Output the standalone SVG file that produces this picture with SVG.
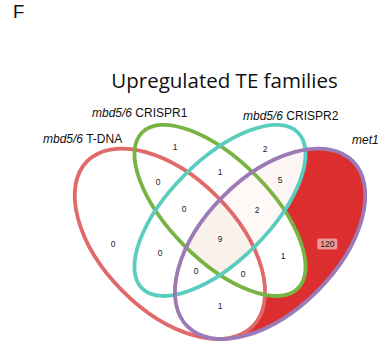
<svg xmlns="http://www.w3.org/2000/svg" width="385" height="349" viewBox="0 0 385 349">
<style>
.n{font-family:"Liberation Sans",Arial,sans-serif;font-size:8.5px;fill:#1a1a1a;text-anchor:middle}
.lab{font-family:"Liberation Sans",Arial,sans-serif;font-size:12px;fill:#111}
.box{fill:#ffffff;fill-opacity:0.5}
.o{fill:none;stroke-width:3.8}
</style>
<defs>
<ellipse id="eR" cx="169.9" cy="243.8" rx="116.9" ry="66.8" transform="rotate(45 169.9 243.8)"/>
<ellipse id="eG" cx="220" cy="210.4" rx="110.2" ry="50.1" transform="rotate(45 220 210.4)"/>
<ellipse id="eC" cx="220" cy="210.4" rx="110.2" ry="50.1" transform="rotate(-45 220 210.4)"/>
<ellipse id="eP" cx="270.1" cy="243.8" rx="116.9" ry="66.8" transform="rotate(-45 270.1 243.8)"/>
<clipPath id="cG"><use href="#eG"/></clipPath>
<clipPath id="cC"><use href="#eC"/></clipPath>
<clipPath id="cP"><use href="#eP"/></clipPath>
</defs>
<rect width="385" height="349" fill="#ffffff"/>
<text x="13" y="18" font-family="Liberation Sans,Arial,sans-serif" font-size="18.5" fill="#111">F</text>
<text x="224.5" y="88" font-family="Open Sans,sans-serif" font-size="20.5" fill="#111" text-anchor="middle">Upregulated TE families</text>

<g id="fills">
<use href="#eP" fill="#DC2E2E"/>
<use href="#eR" fill="#ffffff"/>
<use href="#eG" fill="#ffffff"/>
<use href="#eC" fill="#ffffff"/>
<g clip-path="url(#cP)"><use href="#eC" fill="#FDF5F3"/></g>
<g clip-path="url(#cP)"><g clip-path="url(#cC)"><use href="#eR" fill="#ffffff"/></g></g>
<g clip-path="url(#cP)"><g clip-path="url(#cC)"><use href="#eG" fill="#FEF9F7"/></g></g>
<g clip-path="url(#cP)"><g clip-path="url(#cC)"><g clip-path="url(#cG)"><use href="#eR" fill="#FAF1EB"/></g></g></g>
</g>

<g id="connectors">
<use id="set-tdna" href="#eR" class="o" stroke="#E06A6A"/>
<use id="set-crispr1" href="#eG" class="o" stroke="#78B443"/>
<use id="set-crispr2" href="#eC" class="o" stroke="#5BCDBE"/>
<use id="set-met1" href="#eP" class="o" stroke="#9B7AB6"/>
</g>

<g id="set-labels">
<text class="lab" x="43" y="143"><tspan font-style="italic">mbd5/6</tspan> T-DNA</text>
<text class="lab" x="92" y="117"><tspan font-style="italic">mbd5/6</tspan> CRISPR1</text>
<text class="lab" x="243" y="120"><tspan font-style="italic">mbd5/6</tspan> CRISPR2</text>
<text class="lab" x="352" y="144" font-style="italic">met1</text>
</g>

<g id="counts">
<g id="r-g"><text class="n" x="175" y="150">1</text></g>
<g id="r-rg"><text class="n" x="158" y="185">0</text></g>
<g id="r-gc"><text class="n" x="220" y="175">1</text></g>
<g id="r-c"><text class="n" x="265" y="152">2</text></g>
<g id="r-cp"><rect class="box" x="275" y="174" width="10" height="11" rx="2"/><text class="n" x="280" y="182.5">5</text></g>
<g id="r-rgc"><text class="n" x="184" y="212">0</text></g>
<g id="r-gcp"><rect class="box" x="252" y="204" width="10" height="11" rx="2"/><text class="n" x="257" y="212.5">2</text></g>
<g id="r-r"><text class="n" x="113" y="247">0</text></g>
<g id="r-rc"><text class="n" x="160" y="256">0</text></g>
<g id="r-all"><rect class="box" x="215" y="233.5" width="10" height="11" rx="2"/><text class="n" x="220" y="242">9</text></g>
<g id="r-p"><rect class="box" x="317.3" y="238.5" width="20" height="11" rx="2"/><text class="n" x="327.3" y="247">120</text></g>
<g id="r-gp"><text class="n" x="283" y="259">1</text></g>
<g id="r-rcp"><text class="n" x="196" y="274">0</text></g>
<g id="r-rgp"><text class="n" x="243" y="277">0</text></g>
<g id="r-rp"><text class="n" x="220" y="309">1</text></g>
</g>
</svg>
